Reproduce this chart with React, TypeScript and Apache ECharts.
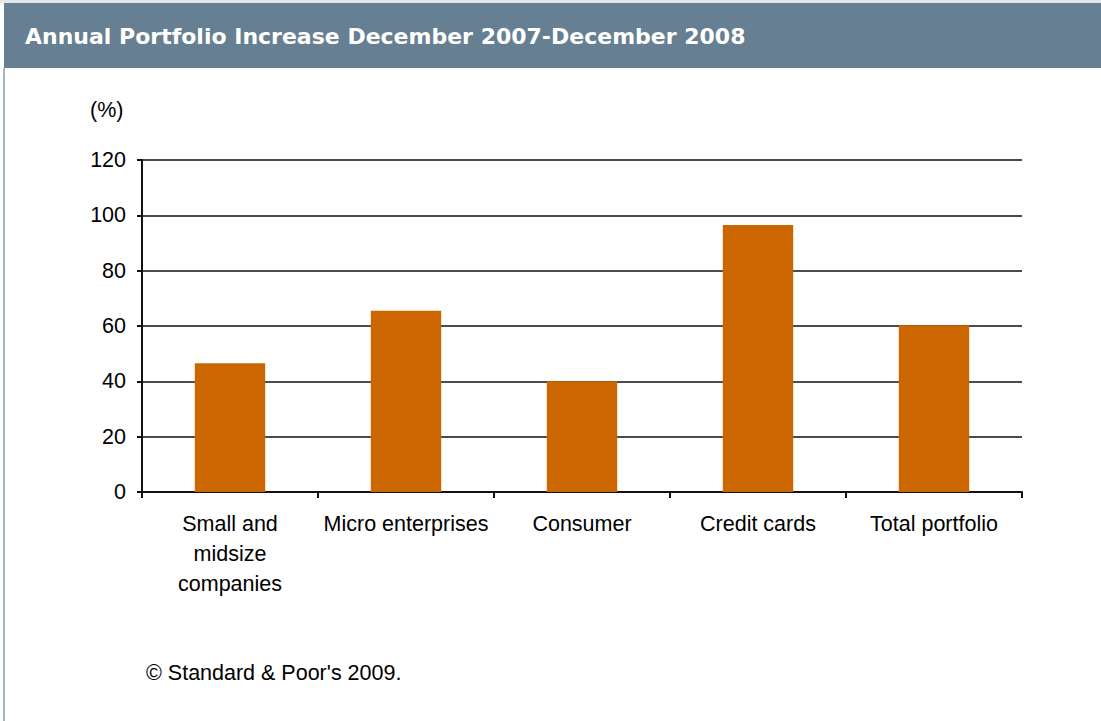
import React, { useEffect, useRef } from "react";
import * as echarts from "echarts";

const categories = ["Small and\nmidsize\ncompanies", "Micro enterprises", "Consumer", "Credit cards", "Total portfolio"];
const values = [46.5, 65.5, 40, 96.5, 60.3];
const yTicks = { min: 0, max: 120, interval: 20 };
const titleText = "Annual Portfolio Increase December 2007-December 2008";
const unitText = "(%)";
const footerText = "\u00A9 Standard & Poor's 2009.";

const FONT = "'Liberation Sans', Arial, sans-serif";
const FS = 21.5;

export default function App() {
  const ref = useRef<HTMLDivElement>(null);
  useEffect(() => {
    const chart = echarts.init(ref.current!, null, { renderer: "svg" });
    chart.setOption({
      animation: false,
      backgroundColor: "#ffffff",
      grid: { left: 142, right: 79, top: 160, bottom: 229, containLabel: false },
      graphic: [
        { type: "rect", shape: { x: 0, y: 0, width: 1101, height: 3 }, style: { fill: "#e6e6e6" } },
        { type: "rect", shape: { x: 4, y: 3, width: 1097, height: 65 }, style: { fill: "#667f92" } },
        { type: "rect", shape: { x: 3, y: 68, width: 2, height: 653 }, style: { fill: "#a6b6c5" } },
        {
          type: "text", x: 25, y: 36,
          style: { text: titleText, fill: "#ffffff", font: "bold 22px 'DejaVu Sans', Verdana, sans-serif", textVerticalAlign: "middle" },
        },
        {
          type: "text", x: 90, y: 110,
          style: { text: unitText, fill: "#000", font: `${FS}px ${FONT}`, textVerticalAlign: "middle" },
        },
        {
          type: "text", x: 146, y: 673,
          style: { text: footerText, fill: "#000", font: `${FS}px ${FONT}`, textVerticalAlign: "middle" },
        },
      ],
      xAxis: {
        type: "category",
        data: categories,
        axisLine: { lineStyle: { color: "#111", width: 2 } },
        axisTick: { show: true, length: 6, lineStyle: { color: "#111", width: 2 } },
        axisLabel: {
          color: "#000", fontSize: FS, fontFamily: FONT,
          margin: 17, lineHeight: 30, interval: 0,
        },
      },
      yAxis: {
        type: "value",
        min: yTicks.min, max: yTicks.max, interval: yTicks.interval,
        axisLine: { show: true, lineStyle: { color: "#111", width: 2 } },
        axisTick: { show: true, length: 5, lineStyle: { color: "#111", width: 2 } },
        axisLabel: { color: "#000", fontSize: FS, fontFamily: FONT, margin: 16 },
        splitLine: { show: true, lineStyle: { color: "#111", width: 1.5 } },
      },
      series: [
        {
          type: "bar",
          data: values,
          barWidth: "40%",
          itemStyle: { color: "#cc6600" },
        },
      ],
    });
    return () => chart.dispose();
  }, []);
  return <div ref={ref} style={{ position: "fixed", left: 0, top: 0, width: 1101, height: 721 }} />;
}
